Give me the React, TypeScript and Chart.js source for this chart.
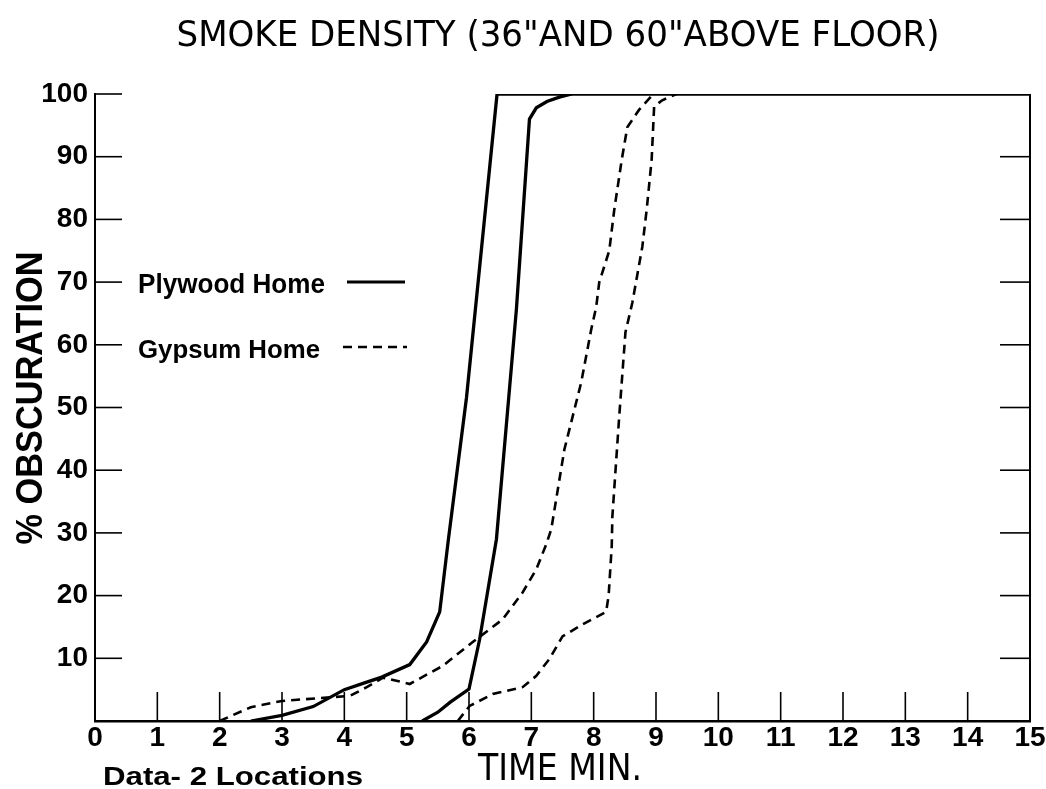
import React, { useEffect, useRef } from "react";
import { Chart, registerables } from "chart.js";

Chart.register(...registerables);

// ---- data ----
const xTickValues = [0, 1, 2, 3, 4, 5, 6, 7, 8, 9, 10, 11, 12, 13, 14, 15];
const yTickValues = [10, 20, 30, 40, 50, 60, 70, 80, 90, 100];

const plywood1X = [2.5, 3.0, 3.5, 4.0, 4.3, 4.6, 5.05, 5.32, 5.53, 5.67, 5.96, 6.45, 15];
const plywood1Y = [0, 0.9, 2.3, 5.0, 6.0, 7.0, 9.0, 12.6, 17.4, 29, 51.6, 100, 100];

const plywood2X = [5.25, 5.5, 5.7, 6.0, 6.17, 6.44, 6.76, 6.97, 7.08, 7.25, 7.45, 7.65];
const plywood2Y = [0, 1.4, 3.0, 5.1, 13, 29, 65.6, 96, 97.8, 98.8, 99.5, 100];

const gypsum1X = [2.0, 2.5, 3.0, 3.8, 4.09, 4.36, 4.62, 4.8, 5.05, 5.58, 6.06, 6.54, 6.86, 7.08, 7.24, 7.32, 7.53, 7.8, 7.96, 8.04, 8.09, 8.25, 8.33, 8.45, 8.54, 8.73, 8.94];
const gypsum1Y = [0, 2.2, 3.2, 3.8, 4.0, 5.4, 6.9, 6.5, 5.9, 8.8, 12.6, 16.2, 20.5, 24.2, 28.2, 30.6, 43.3, 54, 62.4, 66, 70, 75, 81.5, 89.5, 94.7, 97.5, 99.8];

const gypsum2X = [5.82, 6.01, 6.38, 6.86, 7.08, 7.29, 7.5, 7.82, 8.2, 8.24, 8.29, 8.3, 8.41, 8.51, 8.62, 8.78, 8.85, 8.93, 8.97, 9.1, 9.33];
const gypsum2Y = [0, 2.4, 4.3, 5.4, 7.2, 9.9, 13.5, 15.4, 17.4, 20, 27.9, 32.6, 48.6, 62, 66.7, 75.6, 81.5, 89.5, 98, 99, 100];

const legendLabels = ["Plywood Home", "Gypsum Home"];
const chartTitle = 'SMOKE DENSITY (36"AND 60"ABOVE FLOOR)';
const xTitle = "TIME MIN.";
const yTitle = "% OBSCURATION";
const noteText = "Data- 2 Locations";

const toPoints = (xs: number[], ys: number[]) => xs.map((x, i) => ({ x, y: ys[i] }));

function fitText(
  ctx: CanvasRenderingContext2D,
  text: string,
  font: string,
  x: number,
  y: number,
  width: number,
  align: CanvasTextAlign,
  rotate = 0
) {
  ctx.save();
  ctx.font = font;
  const w = ctx.measureText(text).width;
  const s = width / w;
  ctx.translate(x, y);
  if (rotate) ctx.rotate(rotate);
  ctx.scale(s, 1);
  ctx.textAlign = align;
  ctx.textBaseline = "alphabetic";
  ctx.fillStyle = "#000";
  ctx.fillText(text, 0, 0);
  ctx.restore();
}

const decorPlugin = {
  id: "decor",
  afterDraw(chart: any) {
    const ctx: CanvasRenderingContext2D = chart.ctx;
    const xs = chart.scales.x;
    const ys = chart.scales.y;
    const area = chart.chartArea;
    ctx.save();
    ctx.strokeStyle = "#000";
    // right axis
    ctx.lineWidth = 2;
    ctx.beginPath();
    ctx.moveTo(area.right, ys.getPixelForValue(100));
    ctx.lineTo(area.right, ys.getPixelForValue(0));
    ctx.stroke();
    // inner ticks
    ctx.lineWidth = 1.6;
    for (const v of yTickValues) {
      const py = ys.getPixelForValue(v);
      ctx.beginPath();
      ctx.moveTo(area.left, py);
      ctx.lineTo(area.left + 27, py);
      ctx.stroke();
      if (v < 100) {
        ctx.beginPath();
        ctx.moveTo(area.right, py);
        ctx.lineTo(area.right - 30, py);
        ctx.stroke();
      }
    }
    for (const v of xTickValues) {
      if (v === 0 || v === 15) continue;
      const px = xs.getPixelForValue(v);
      ctx.beginPath();
      ctx.moveTo(px, area.bottom);
      ctx.lineTo(px, area.bottom - 29);
      ctx.stroke();
    }
    // legend samples
    ctx.lineWidth = 3.2;
    ctx.beginPath();
    ctx.moveTo(347, 282);
    ctx.lineTo(405, 282);
    ctx.stroke();
    ctx.lineWidth = 2.6;
    ctx.setLineDash([9, 6]);
    ctx.beginPath();
    ctx.moveTo(343, 347);
    ctx.lineTo(407, 347);
    ctx.stroke();
    ctx.setLineDash([]);
    ctx.restore();

    // texts
    fitText(ctx, chartTitle, "normal 36px 'DejaVu Sans'", 558, 46, 763, "center");
    fitText(ctx, yTitle, "bold 37px 'Liberation Sans'", 42, 398, 293, "center", -Math.PI / 2);
    fitText(ctx, xTitle, "normal 37px 'DejaVu Sans'", 560, 780, 164, "center");
    fitText(ctx, noteText, "bold 25px 'Liberation Sans'", 103, 785, 260, "left");
    fitText(ctx, legendLabels[0], "bold 27px 'Liberation Sans'", 138, 293, 187, "left");
    fitText(ctx, legendLabels[1], "bold 26px 'Liberation Sans'", 138, 358, 182, "left");
  },
};

export default function App() {
  const ref = useRef<HTMLCanvasElement | null>(null);
  useEffect(() => {
    if (!ref.current) return;
    const solid = { borderColor: "#000", borderWidth: 3.3, pointRadius: 0, tension: 0, fill: false };
    const dashed = { borderColor: "#000", borderWidth: 2.6, borderDash: [9, 6], pointRadius: 0, tension: 0, fill: false };
    const chart = new Chart(ref.current, {
      type: "line",
      data: {
        datasets: [
          { label: legendLabels[0], data: toPoints(plywood1X, plywood1Y), ...solid },
          { label: legendLabels[0] + " 2", data: toPoints(plywood2X, plywood2Y), ...solid },
          { label: legendLabels[1], data: toPoints(gypsum1X, gypsum1Y), ...dashed },
          { label: legendLabels[1] + " 2", data: toPoints(gypsum2X, gypsum2Y), ...dashed },
        ],
      },
      options: {
        responsive: false,
        animation: false,
        devicePixelRatio: 1,
        layout: { padding: { top: 94, right: 16, left: 0, bottom: 0 } },
        plugins: { legend: { display: false }, title: { display: false }, tooltip: { enabled: false } },
        scales: {
          x: {
            type: "linear",
            min: 0,
            max: 15,
            grid: { display: false, drawTicks: false },
            border: { display: true, color: "#000", width: 2.5 },
            afterFit: (s: any) => { s.height = 68; },
            afterBuildTicks: (s: any) => { s.ticks = xTickValues.map((v) => ({ value: v })); },
            ticks: {
              autoSkip: false,
              maxRotation: 0,
              padding: 0,
              color: "#000",
              font: { family: "'Liberation Sans'", size: 28, weight: "bold", lineHeight: 1.2 },
            },
          },
          y: {
            type: "linear",
            min: 0,
            max: 100,
            grid: { display: false, drawTicks: false },
            border: { display: true, color: "#000", width: 2 },
            afterFit: (s: any) => { s.width = 95; },
            afterBuildTicks: (s: any) => { s.ticks = yTickValues.map((v) => ({ value: v })); },
            ticks: {
              autoSkip: false,
              padding: 7,
              color: "#000",
              font: { family: "'Liberation Sans'", size: 28, weight: "bold" },
            },
          },
        },
      },
      plugins: [decorPlugin],
    } as any);
    return () => chart.destroy();
  }, []);
  return (
    <canvas
      ref={ref}
      width={1046}
      height={789}
      style={{ position: "absolute", left: 0, top: 0, width: 1046, height: 789, background: "#fff" }}
    />
  );
}
